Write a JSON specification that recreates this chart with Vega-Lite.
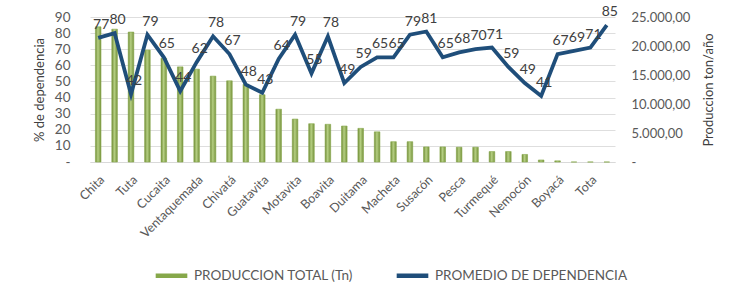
{
  "$schema": "https://vega.github.io/schema/vega-lite/v6.json",
  "width": 525,
  "height": 145,
  "autosize": {"type": "none"},
  "padding": {"left": 90, "top": 17, "right": 137, "bottom": 128},
  "background": "white",
  "config": {
    "font": "Lato",
    "view": {"stroke": null},
    "axis": {"labelFont": "Lato", "titleFont": "Lato", "labelColor": "#595959", "titleColor": "#404040", "titleFontWeight": "normal", "labelOverlap": false}
  },
  "data": {
    "values": [
      {"n": 1, "municipio": "Chita", "produccion": 23300, "dependencia": 77},
      {"n": 2, "municipio": "", "produccion": 22900, "dependencia": 80},
      {"n": 3, "municipio": "Tuta", "produccion": 22400, "dependencia": 42},
      {"n": 4, "municipio": "", "produccion": 19300, "dependencia": 79},
      {"n": 5, "municipio": "Cucaita", "produccion": 17900, "dependencia": 65},
      {"n": 6, "municipio": "", "produccion": 16400, "dependencia": 44},
      {"n": 7, "municipio": "Ventaquemada", "produccion": 16000, "dependencia": 62},
      {"n": 8, "municipio": "", "produccion": 14800, "dependencia": 78},
      {"n": 9, "municipio": "Chivatá", "produccion": 14000, "dependencia": 67},
      {"n": 10, "municipio": "", "produccion": 13400, "dependencia": 48},
      {"n": 11, "municipio": "Guatavita", "produccion": 11600, "dependencia": 43},
      {"n": 12, "municipio": "", "produccion": 9100, "dependencia": 64},
      {"n": 13, "municipio": "Motavita", "produccion": 7400, "dependencia": 79},
      {"n": 14, "municipio": "", "produccion": 6600, "dependencia": 55},
      {"n": 15, "municipio": "Boavita", "produccion": 6500, "dependencia": 78},
      {"n": 16, "municipio": "", "produccion": 6200, "dependencia": 49},
      {"n": 17, "municipio": "Duitama", "produccion": 5800, "dependencia": 59},
      {"n": 18, "municipio": "", "produccion": 5200, "dependencia": 65},
      {"n": 19, "municipio": "Macheta", "produccion": 3500, "dependencia": 65},
      {"n": 20, "municipio": "", "produccion": 3500, "dependencia": 79},
      {"n": 21, "municipio": "Susacón", "produccion": 2600, "dependencia": 81},
      {"n": 22, "municipio": "", "produccion": 2600, "dependencia": 65},
      {"n": 23, "municipio": "Pesca", "produccion": 2550, "dependencia": 68},
      {"n": 24, "municipio": "", "produccion": 2550, "dependencia": 70},
      {"n": 25, "municipio": "Turmequé", "produccion": 1800, "dependencia": 71},
      {"n": 26, "municipio": "", "produccion": 1800, "dependencia": 59},
      {"n": 27, "municipio": "Nemocón", "produccion": 1300, "dependencia": 49},
      {"n": 28, "municipio": "", "produccion": 350, "dependencia": 41},
      {"n": 29, "municipio": "Boyacá", "produccion": 200, "dependencia": 67},
      {"n": 30, "municipio": "", "produccion": 0, "dependencia": 69},
      {"n": 31, "municipio": "Tota", "produccion": 0, "dependencia": 71},
      {"n": 32, "municipio": "", "produccion": 0, "dependencia": 85}
    ]
  },
  "encoding": {
    "x": {
      "field": "n",
      "type": "ordinal",
      "scale": {"paddingInner": 0.66, "paddingOuter": 0.33},
      "axis": {
        "title": null,
        "labelAngle": -45,
        "labelAlign": "right",
        "labelBaseline": "top",
        "labelFontSize": 12.5,
        "labelPadding": 11,
        "ticks": false,
        "domainColor": "#d9d9d9",
        "labelExpr": "['Chita','','Tuta','','Cucaita','','Ventaquemada','','Chivatá','','Guatavita','','Motavita','','Boavita','','Duitama','','Macheta','','Susacón','','Pesca','','Turmequé','','Nemocón','','Boyacá','','Tota',''][datum.value-1]"
      }
    }
  },
  "layer": [
    {
      "mark": {
        "type": "bar",
        "strokeWidth": 0.6,
        "fill": {
          "gradient": "linear",
          "x1": 0, "y1": 0, "x2": 1, "y2": 0,
          "stops": [
            {"offset": 0, "color": "#6f8a35"},
            {"offset": 0.45, "color": "#b5cf82"},
            {"offset": 1, "color": "#76923c"}
          ]
        }
      },
      "encoding": {
        "y": {
          "field": "produccion",
          "type": "quantitative",
          "scale": {"domain": [0, 25000]},
          "axis": {
            "orient": "right",
            "title": "Produccion ton/año",
            "titleAngle": 270,
            "titleFontSize": 13,
            "titlePadding": 26,
            "labelFontSize": 13,
            "labelPadding": 16,
            "labelOverlap": false,
            "values": [0, 5000, 10000, 15000, 20000, 25000],
            "labelExpr": "datum.value == 0 ? '-' : replace(replace(replace(format(datum.value, ',.2f'), ',', '_'), '.', ','), '_', '.')",
            "grid": false,
            "ticks": false,
            "domain": false
          }
        },
        "stroke": {
          "datum": "PRODUCCION  TOTAL (Tn)",
          "scale": {
            "domain": ["PRODUCCION  TOTAL (Tn)", "PROMEDIO DE DEPENDENCIA"],
            "range": ["#86a84a", "#1f4e7a"]
          },
          "legend": {
            "title": null,
            "orient": "none",
            "legendX": 63,
            "legendY": 240,
            "direction": "horizontal",
            "symbolType": "stroke",
            "symbolSize": 1000,
            "symbolStrokeWidth": 4.5,
            "labelFontSize": 13.5,
            "labelColor": "#595959",
            "labelFont": "Lato",
            "labelOffset": 4,
            "columnPadding": 30,
            "labelLimit": 300
          }
        }
      }
    },
    {
      "encoding": {
        "y": {
          "field": "dependencia",
          "type": "quantitative",
          "scale": {"domain": [0, 90]},
          "axis": {
            "orient": "left",
            "title": "% de dependencia",
            "titleFontSize": 13,
            "titlePadding": 8,
            "labelFontSize": 13.5,
            "labelPadding": 20,
            "labelOverlap": false,
            "values": [0, 10, 20, 30, 40, 50, 60, 70, 80, 90],
            "labelExpr": "datum.value == 0 ? '-' : '' + datum.value",
            "grid": true,
            "gridColor": "#dedede",
            "ticks": false,
            "domain": false
          }
        }
      },
      "layer": [
        {
          "mark": {"type": "line", "strokeWidth": 3.8, "strokeJoin": "miter"},
          "encoding": {
            "stroke": {"datum": "PROMEDIO DE DEPENDENCIA"}
          }
        },
        {
          "mark": {"type": "text", "baseline": "bottom", "dy": -6, "dx": 3, "fontSize": 14, "color": "#404040", "font": "Lato"},
          "encoding": {
            "text": {"field": "dependencia", "type": "quantitative"}
          }
        }
      ]
    }
  ],
  "resolve": {"scale": {"y": "independent"}}
}
